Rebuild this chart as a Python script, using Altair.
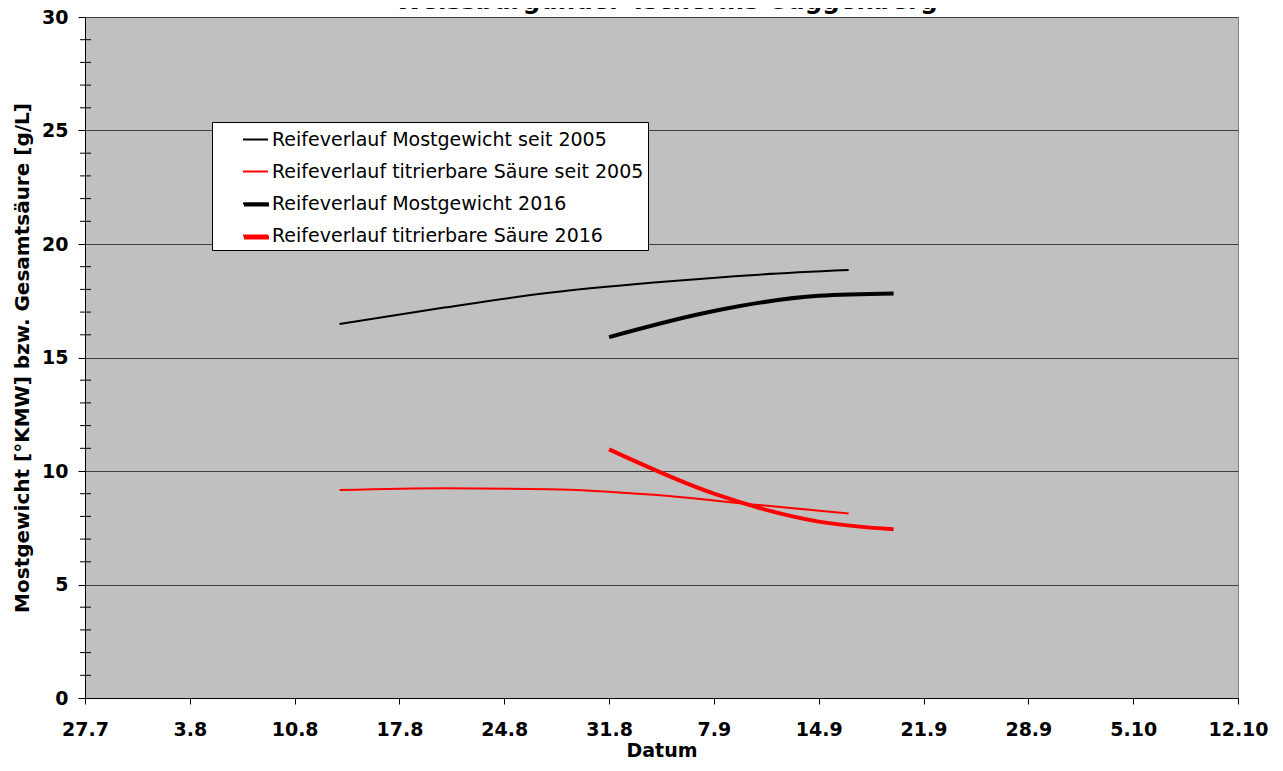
import altair as alt
import pandas as pd

# ---- data ----
series_names = [
    "Reifeverlauf Mostgewicht seit 2005",
    "Reifeverlauf titrierbare Säure seit 2005",
    "Reifeverlauf Mostgewicht 2016",
    "Reifeverlauf titrierbare Säure 2016",
]
series_colors = ["#000000", "#FF0000", "#000000", "#FF0000"]

dates_avg = ["2016-08-13", "2016-08-20", "2016-08-27", "2016-09-03", "2016-09-10", "2016-09-16"]
most_avg = [16.48, 17.2, 17.85, 18.3, 18.65, 18.85]
saeure_avg = [9.16, 9.24, 9.2, 8.95, 8.5, 8.13]

dates_2016 = ["2016-08-31", "2016-09-07", "2016-09-14", "2016-09-19"]
most_2016 = [15.9, 17.05, 17.72, 17.82]
saeure_2016 = [10.95, 9.0, 7.77, 7.43]

tick_dates = ["2016-07-27", "2016-08-03", "2016-08-10", "2016-08-17", "2016-08-24", "2016-08-31",
              "2016-09-07", "2016-09-14", "2016-09-21", "2016-09-28", "2016-10-05", "2016-10-12"]
y_major = [0, 5, 10, 15, 20, 25, 30]
y_minor = [v for v in range(1, 30) if v % 5 != 0]

title_text = "Weissburgunder Tscherms Guggenberg"
x_title = "Datum"
y_title = "Mostgewicht [°KMW] bzw. Gesamtsäure [g/L]"

# ---- build table ----
rows = []
for d, v in zip(dates_avg, most_avg):
    rows.append({"date": d, "value": v, "series": series_names[0], "group": "avg"})
for d, v in zip(dates_avg, saeure_avg):
    rows.append({"date": d, "value": v, "series": series_names[1], "group": "avg"})
for d, v in zip(dates_2016, most_2016):
    rows.append({"date": d, "value": v, "series": series_names[2], "group": "y2016"})
for d, v in zip(dates_2016, saeure_2016):
    rows.append({"date": d, "value": v, "series": series_names[3], "group": "y2016"})
df = pd.DataFrame(rows)

def to_ms(s):
    return int(pd.Timestamp(s, tz="UTC").value // 10**6)

tick_ms = [to_ms(t) for t in tick_dates]
FONT = "DejaVu Sans"

LEG_X, LEG_Y, ROW_PITCH = 127, 105, 32

x_enc = alt.X(
    "date:T",
    scale=alt.Scale(type="utc", domain=[tick_ms[0], tick_ms[-1]]),
    axis=alt.Axis(
        values=tick_ms, labelExpr="utcFormat(datum.value, '%-d.%-m')", grid=False,
        tickSize=6, labelPadding=16, labelFlush=False, labelOverlap=False,
        title=x_title, titleY=58, titleBaseline="alphabetic",
    ),
)

y_axis = alt.Axis(
    values=y_major, grid=True, gridColor="#404040", gridWidth=1,
    tickSize=7, labelPadding=10,
    title=y_title, titleAngle=270, titleX=-57, titleY=340.5, titleFontSize=20,
    titleBaseline="alphabetic", titleAlign="center",
)
y_scale = alt.Scale(domain=[0, 30], nice=False)

common_leg = dict(
    title=None, orient="none", legendX=LEG_X, padding=4,
    symbolOffset=26, symbolType="stroke", symbolSize=625,
    labelOffset=3, rowPadding=8, labelFont=FONT, labelFontSize=19,
    labelColor="black", labelLimit=0,
)

# legend with all four entries (thin symbols) inside the white box
color_thin = alt.Color(
    "series:N",
    scale=alt.Scale(domain=series_names, range=series_colors),
    legend=alt.Legend(
        legendY=LEG_Y, fillColor="white", strokeColor="black",
        symbolStrokeWidth=2, zindex=0,
        **common_leg,
    ),
)
# overlay legend: thick symbols for the 2016 rows (rows 3 and 4)
color_thick = alt.Color(
    "series:N",
    scale=alt.Scale(domain=series_names[2:], range=series_colors[2:]),
    legend=alt.Legend(
        legendY=LEG_Y + 2 * ROW_PITCH, symbolStrokeWidth=4, zindex=1,
        labelExpr="''",
        **common_leg,
    ),
)

base = alt.Chart(df)

thin = base.transform_filter(alt.datum.group == "avg").mark_line(
    strokeWidth=2, interpolate="monotone"
).encode(
    x=x_enc,
    y=alt.Y("value:Q", scale=y_scale, axis=y_axis),
    color=color_thin,
)

thick = base.transform_filter(alt.datum.group == "y2016").mark_line(
    strokeWidth=4, interpolate="monotone"
).encode(
    x=x_enc,
    y=alt.Y("value:Q", scale=y_scale, axis=y_axis),
    color=color_thick,
)

minor = alt.Chart(pd.DataFrame({"value": y_minor})).mark_rule(
    color="black", strokeWidth=1
).encode(
    y=alt.Y("value:Q", scale=y_scale, axis=y_axis),
    x=alt.value(-5),
    x2=alt.value(6),
)

chart = alt.layer(thin, thick, minor).resolve_scale(
    color="independent"
).properties(
    width=1153,
    height=681,
    title=alt.TitleParams(
        text=title_text, font=FONT, fontSize=24.5, fontWeight="bold",
        color="black", anchor="middle", baseline="alphabetic", offset=0, dx=5, dy=25,
    ),
    autosize=alt.AutoSizeParams(type="none"),
    padding={"left": 77, "top": 9, "right": 35, "bottom": 61},
).configure_view(
    fill="#C0C0C0", stroke="#808080", strokeWidth=1
).configure_axis(
    labelFont=FONT, labelFontSize=19, labelFontWeight="bold", labelColor="black",
    titleFont=FONT, titleFontSize=19, titleFontWeight="bold", titleColor="black",
    domainColor="black", domainWidth=1, tickColor="black", tickWidth=1,
)

chart.save("out.html", embed_options={"renderer": "svg", "actions": False})
